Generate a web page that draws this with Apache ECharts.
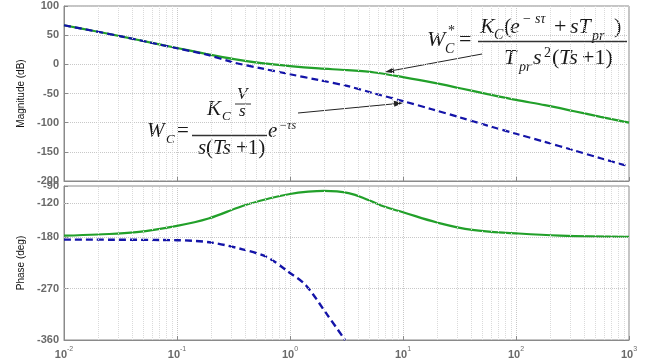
<!DOCTYPE html>
<html lang="en">
<head>
  <meta charset="UTF-8">
  <title>Bode</title>
  <style>
    html, body { margin: 0; padding: 0; background: #fff; }
    #main { width: 657px; height: 360px; }
  </style>
</head>
<body>
  <div id="main"></div>
  <script src="https://cdn.jsdelivr.net/npm/echarts@6/dist/echarts.min.js"></script>
  <script>
    // magnitude (frequency in rad/s, dB)
    var magFreq = [0.01, 0.018, 0.032, 0.056, 0.1, 0.18, 0.32, 0.56, 1, 1.8, 3.2, 5.6, 10, 18, 32, 56, 100, 180, 320, 560, 1000]
    var magWcStar = [67, 57.5, 48, 38, 28, 18, 9, 2, -3, -7, -10, -14, -22, -31, -41, -51, -61, -70, -80, -90, -100]
    var magWc = [67, 57.5, 48, 38, 27.5, 17, 3, -7, -17, -27, -37, -50, -63, -77, -91, -105, -119, -133, -147, -161, -175]

    // phase (deg)
    var phFreqStar = [0.01, 0.02, 0.044, 0.1, 0.19, 0.38, 0.65, 1, 1.45, 2, 3.3, 5, 6.8, 10, 20, 41, 100, 245, 1000]
    var phWcStar = [-177, -175, -171, -160, -147, -125, -112, -104, -100, -98.5, -102.5, -115, -126, -136, -154, -167, -173, -177, -179]
    var phFreq = [0.01, 0.1, 0.2, 0.38, 0.63, 0.96, 1.38, 2.14, 3.07]
    var phWc = [-184, -185, -189, -201, -215, -240, -264, -316, -360]

    var phaseTicks = [-360, -270, -180, -120, -90]

    function pairs(xs, ys) {
      return xs.map(function (x, i) { return [x, ys[i]] })
    }

    // minor log grid lines 2..9 in each decade
    var minorGrid = []
    ;[0.01, 0.1, 1, 10, 100].forEach(function (d) {
      for (var m = 2; m <= 9; m++) minorGrid.push({ xAxis: +(d * m).toPrecision(3) })
    })
    // phase axis has uneven ticks, so its horizontal grid is drawn by hand
    var phaseGrid = [-270, -180, -120].map(function (v) { return { yAxis: v } })

    var green = '#22a02a'
    var blue = '#1414a8'
    var labelStyle = { color: '#6a6a6a', fontSize: 11, fontWeight: 'bold', fontFamily: 'Liberation Sans' }
    var gridLine = { show: true, lineStyle: { color: '#c8c8c8', type: 'dotted', width: 1 } }

    function xAxis(idx, labels) {
      return {
        type: 'log', gridIndex: idx, logBase: 10, min: 0.01, max: 1000,
        axisLine: { onZero: false, lineStyle: { color: '#8a8a8a' } },
        axisTick: { inside: true, length: 4, lineStyle: { color: '#8a8a8a' } },
        splitLine: gridLine,
        axisLabel: {
          show: labels, margin: 6,
          formatter: function (v) {
            var e = Math.round(Math.log10(v))
            return '{b|10}{e|' + e + '}'
          },
          rich: {
            b: { color: '#6a6a6a', fontSize: 11, fontWeight: 'bold', fontFamily: 'Liberation Sans', verticalAlign: 'bottom', lineHeight: 14 },
            e: { color: '#6a6a6a', fontSize: 7, fontFamily: 'Liberation Sans', verticalAlign: 'top', lineHeight: 14 }
          }
        }
      }
    }

    function gridMarks(data, color) {
      return {
        silent: true, symbol: 'none', animation: false,
        label: { show: false },
        lineStyle: { color: color, type: 'dotted', width: 1 },
        data: data
      }
    }

    // formula pieces: [x, baseline, text, size, italic]
    var f1 = [
      [427, 48, 'W', 22, 1], [445, 54, 'C', 14, 1], [448, 36, '*', 14, 0], [459, 48, '=', 22, 0],
      [480, 35, 'K', 22, 1], [494, 40, 'C', 14, 1], [504, 35, '(', 22, 0], [510, 35, 'e', 22, 1],
      [522, 24, '− sτ', 14, 1], [554, 35, '+', 22, 0], [570, 35, 'sT', 22, 1], [592, 41, 'pr', 14, 1],
      [614, 35, ')', 22, 0],
      [504, 66, 'T', 22, 1], [519, 72, 'pr', 14, 1], [533, 66, 's', 22, 1], [544, 58, '2', 14, 0],
      [552, 66, '(', 22, 0], [559, 66, 'Ts', 22, 1], [582, 66, '+1)', 22, 0]
    ]
    var f2 = [
      [147, 139, 'W', 21, 1], [166, 144, 'C', 13, 1], [177, 139, '=', 21, 0],
      [207, 117, 'K', 21, 1], [222, 121, 'C', 13, 1], [237, 100, 'V', 17, 1], [239, 117, 's', 17, 1],
      [198, 156, 's', 21, 1], [206, 156, '(', 21, 0], [213, 156, 'Ts', 21, 1], [236, 156, '+1)', 21, 0],
      [268, 139, 'e', 21, 1], [279, 130, '−τs', 12, 1]
    ]

    var graphic = []
    f1.concat(f2).forEach(function (p) {
      graphic.push({
        type: 'text', silent: true,
        style: {
          x: p[0], y: p[1] - 0.34 * p[3], text: p[2],
          font: (p[4] ? 'italic ' : '') + p[3] + 'px "Liberation Serif"',
          fill: '#1a1a1a', align: 'left', verticalAlign: 'middle'
        }
      })
    })
    // fraction bars
    ;[[478, 627, 41.5, 1.6], [192, 267, 135.5, 1.4], [235, 251, 104, 1]].forEach(function (b) {
      graphic.push({ type: 'line', silent: true, shape: { x1: b[0], y1: b[2], x2: b[1], y2: b[2] }, style: { stroke: '#333', lineWidth: b[3] } })
    })
    // arrows
    function arrow(x1, y1, x2, y2) {
      var a = Math.atan2(y2 - y1, x2 - x1), L = 9, w = 3
      var bx = x2 - L * Math.cos(a), by = y2 - L * Math.sin(a)
      graphic.push({ type: 'line', silent: true, shape: { x1: x1, y1: y1, x2: bx, y2: by }, style: { stroke: '#222', lineWidth: 1 } })
      graphic.push({
        type: 'polygon', silent: true,
        shape: { points: [[x2, y2], [bx - w * Math.sin(a), by + w * Math.cos(a)], [bx + w * Math.sin(a), by - w * Math.cos(a)]] },
        style: { fill: '#222' }
      })
    }
    arrow(482, 54, 385, 72)
    arrow(298, 113, 403, 103)

    var myChart = echarts.init(document.getElementById('main'))
    var options = {
      animation: false,
      grid: [
        { left: 64, right: 28, top: 6, height: 175, show: true, borderColor: '#8a8a8a', borderWidth: 1 },
        { left: 64, right: 28, top: 186, height: 156, show: true, borderColor: '#8a8a8a', borderWidth: 1 }
      ],
      xAxis: [xAxis(0, false), xAxis(1, true)],
      yAxis: [
        {
          type: 'value', gridIndex: 0, min: -200, max: 100, interval: 50,
          name: 'Magnitude (dB)', nameLocation: 'middle', nameGap: 36, nameRotate: 90,
          nameTextStyle: { color: '#111', fontSize: 10, fontFamily: 'Liberation Sans' },
          axisLine: { show: true, lineStyle: { color: '#8a8a8a' } },
          axisTick: { inside: true, length: 4, lineStyle: { color: '#8a8a8a' } },
          axisLabel: Object.assign({ margin: 5 }, labelStyle),
          splitLine: gridLine
        },
        {
          type: 'value', gridIndex: 1, min: -360, max: -90, interval: 30,
          name: 'Phase (deg)', nameLocation: 'middle', nameGap: 36, nameRotate: 90,
          nameTextStyle: { color: '#111', fontSize: 10, fontFamily: 'Liberation Sans' },
          axisLine: { show: true, lineStyle: { color: '#8a8a8a' } },
          axisTick: { inside: true, length: 4, customValues: phaseTicks, lineStyle: { color: '#8a8a8a' } },
          axisLabel: Object.assign({ margin: 5, customValues: phaseTicks }, labelStyle),
          splitLine: { show: false }
        }
      ],
      series: [
        {
          type: 'line', xAxisIndex: 0, yAxisIndex: 0, data: pairs(magFreq, magWcStar),
          showSymbol: false, smooth: 0.3, lineStyle: { color: green, width: 2.2 },
          markLine: gridMarks(minorGrid, '#dadada'), z: 3
        },
        {
          type: 'line', xAxisIndex: 0, yAxisIndex: 0, data: pairs(magFreq, magWc),
          showSymbol: false, smooth: 0.3, lineStyle: { color: blue, width: 2.2, type: [7, 4] }, z: 4
        },
        {
          type: 'line', xAxisIndex: 1, yAxisIndex: 1, data: pairs(phFreqStar, phWcStar),
          showSymbol: false, smooth: 0.4, lineStyle: { color: green, width: 2.2 },
          markLine: gridMarks(minorGrid, '#dadada'), z: 3
        },
        {
          type: 'line', xAxisIndex: 1, yAxisIndex: 1, data: pairs(phFreq, phWc),
          showSymbol: false, smooth: 0.3, lineStyle: { color: blue, width: 2.4, type: [7, 4] },
          markLine: gridMarks(phaseGrid, '#c8c8c8'), z: 4
        }
      ],
      graphic: graphic
    }
    myChart.setOption(options)

    window.onresize = function () {
      myChart.resize()
    }
  </script>
</body>
</html>
